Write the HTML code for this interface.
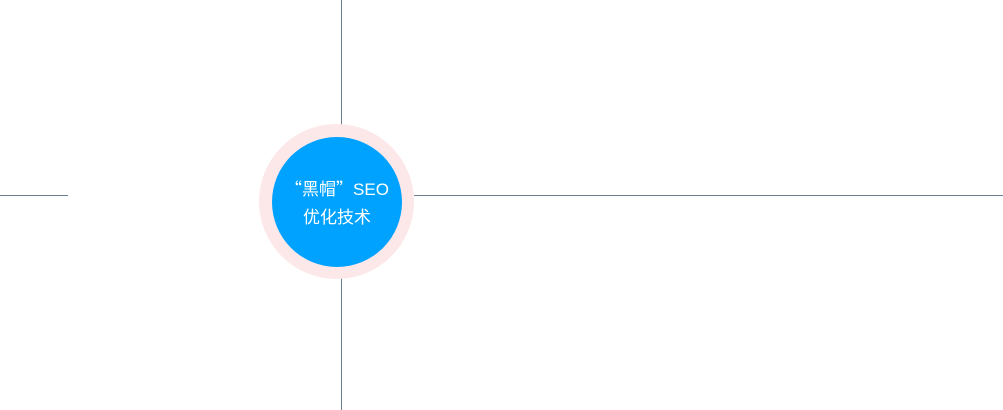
<!DOCTYPE html>
<html><head><style>
body{margin:0;width:1003px;height:410px;background:#fff;position:relative;overflow:hidden;font-family:"Liberation Sans","Noto Sans CJK SC",sans-serif}
.l{position:absolute;background:#6a7f92}
.q{font-family:"Noto Sans CJK SC",sans-serif}
</style></head><body>
<div class="l" style="left:341px;top:0;width:1px;height:125px"></div>
<div class="l" style="left:341px;top:278px;width:1px;height:132px"></div>
<div class="l" style="left:0;top:195px;width:68px;height:1px"></div>
<div class="l" style="left:414px;top:195px;width:589px;height:1px"></div>
<div style="position:absolute;left:259px;top:124px;width:155px;height:155px;border-radius:50%;background:#fce8e9"></div>
<div style="position:absolute;left:272px;top:137px;width:130px;height:130px;border-radius:50%;background:#00a2ff"></div>
<div style="position:absolute;left:262px;top:174px;width:150px;text-align:center;color:#fff;font-size:17px;line-height:28px"><span class="q">“黑帽”</span>SEO<br>优化技术</div>
</body></html>
